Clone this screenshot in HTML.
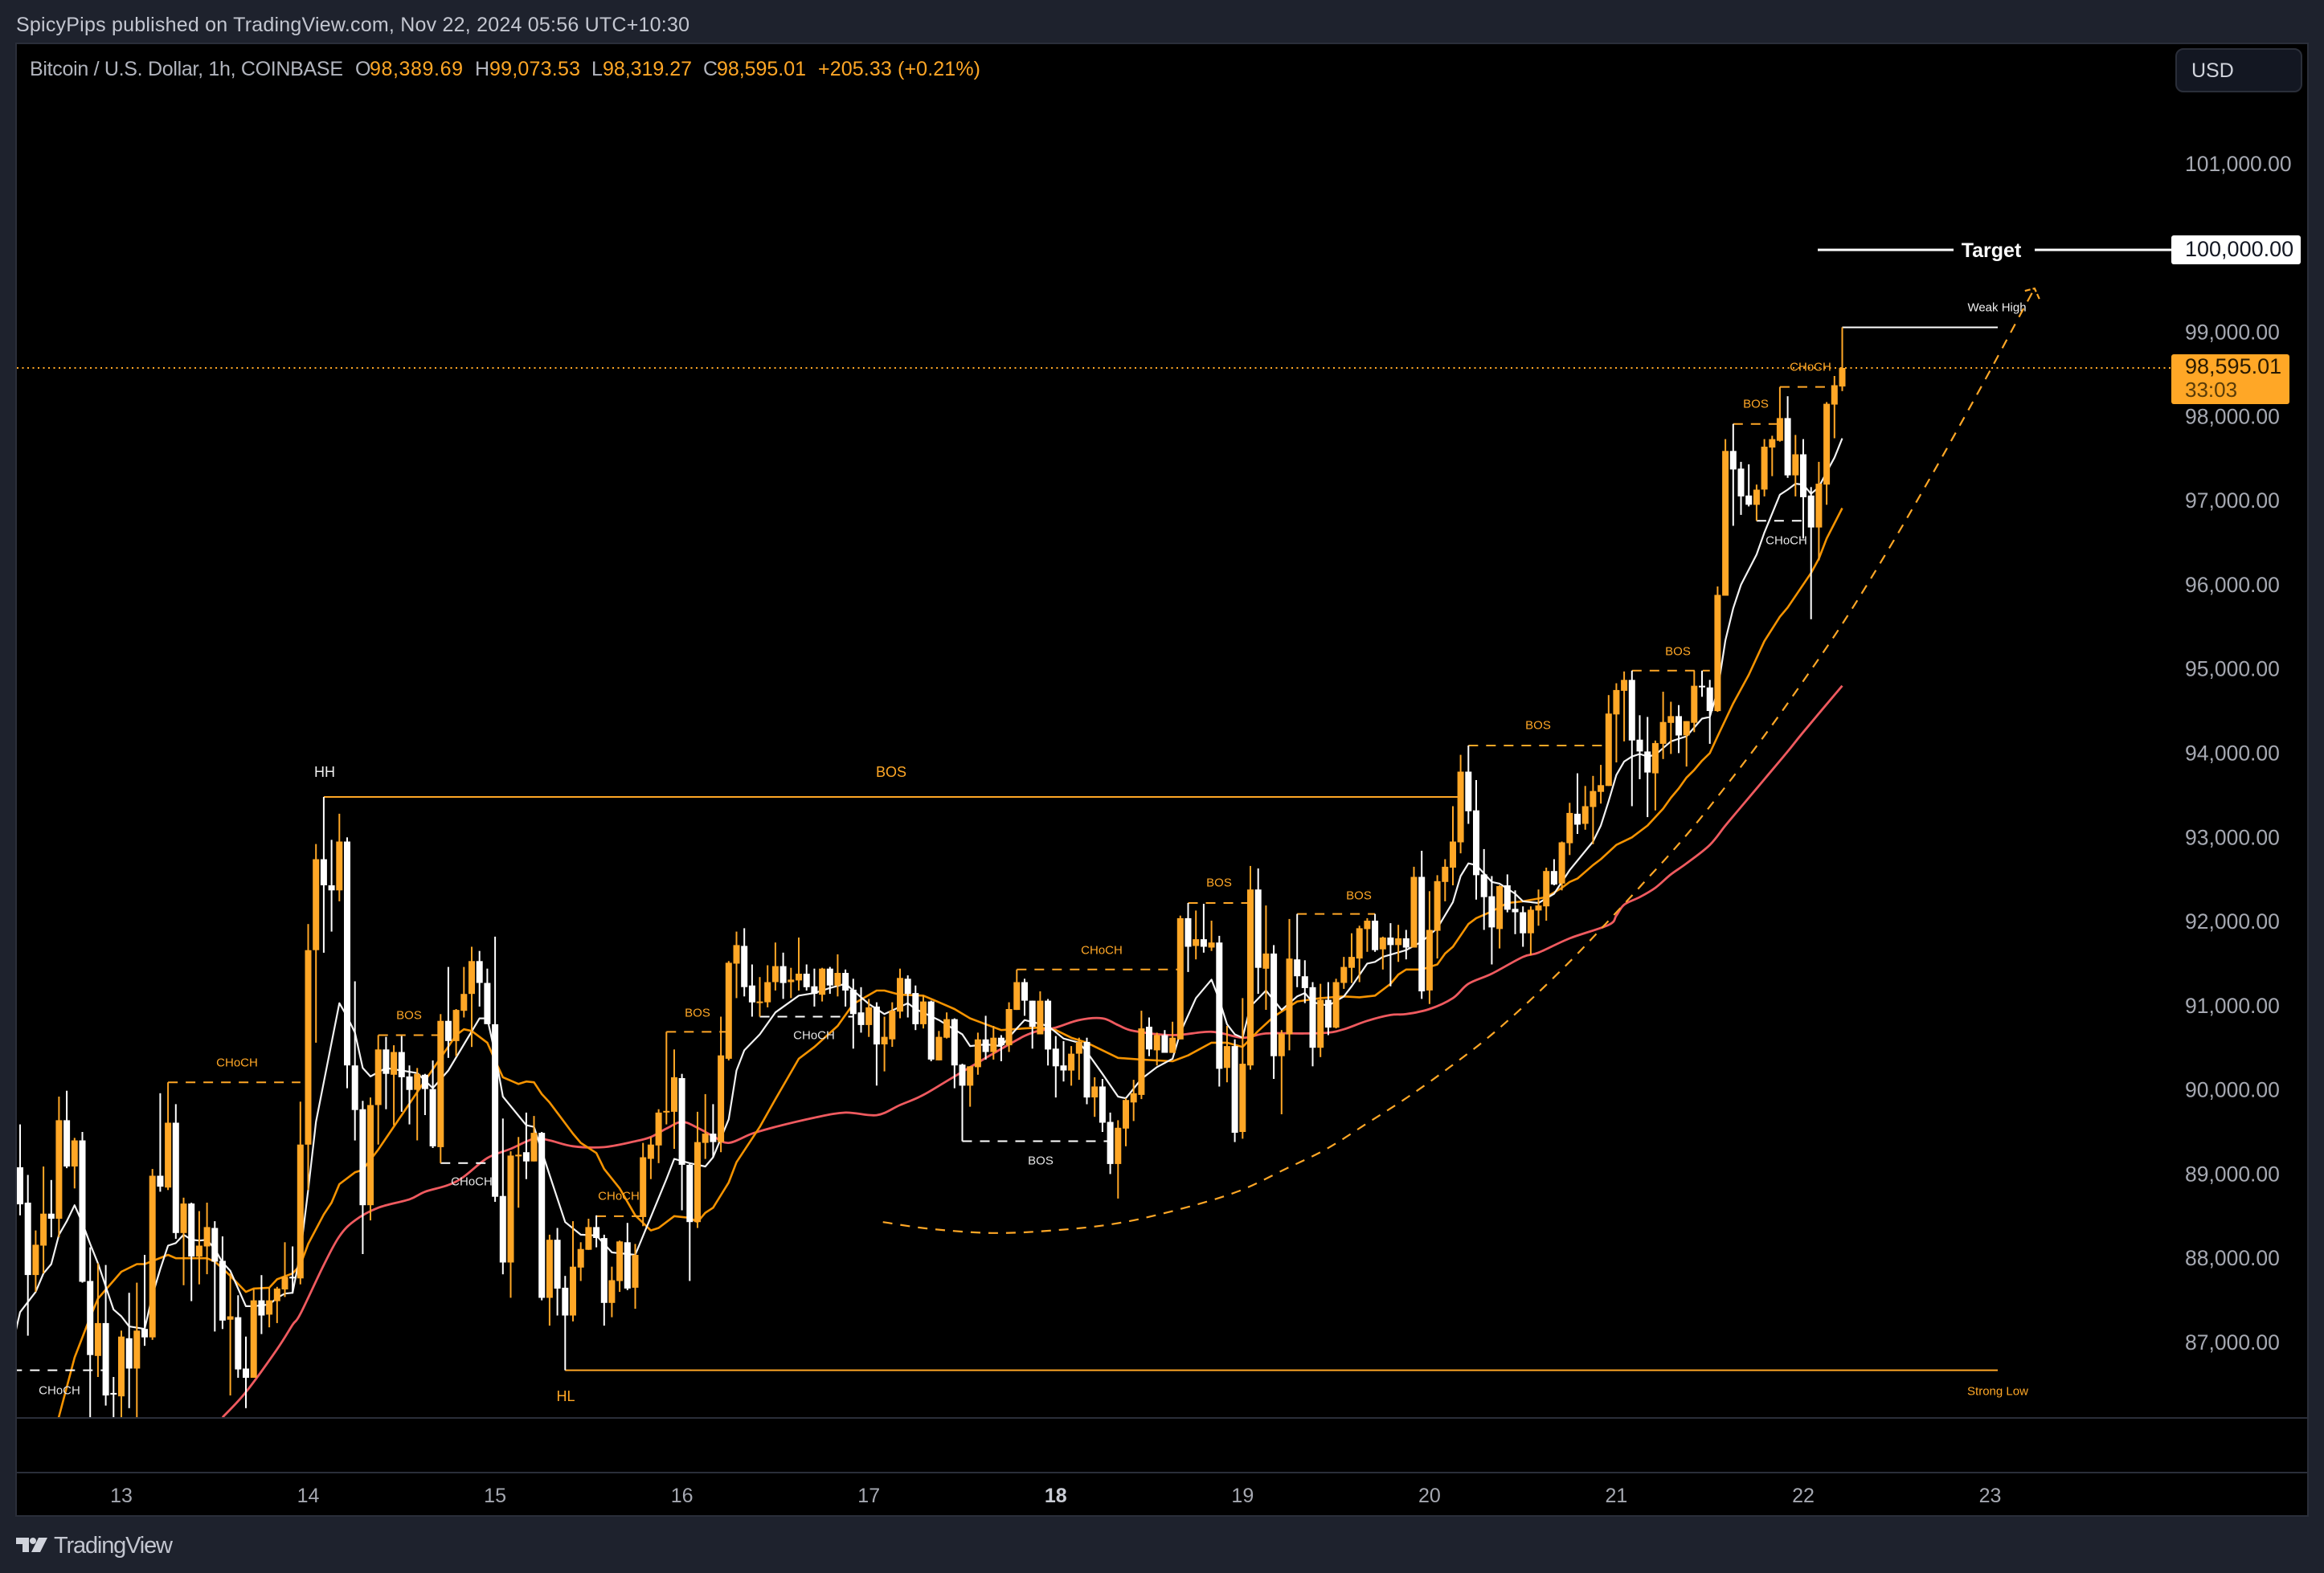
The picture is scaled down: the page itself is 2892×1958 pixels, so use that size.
<!DOCTYPE html>
<html lang="en">
<head>
<meta charset="utf-8">
<title>BTC/USD 1h chart</title>
<style>
html,body{margin:0;padding:0;width:2892px;height:1958px;overflow:hidden;background:#1e222d;}
svg{display:block;font-family:"Liberation Sans",sans-serif;}
</style>
</head>
<body>
<svg id="chart" xmlns="http://www.w3.org/2000/svg" width="2892" height="1958" viewBox="0 0 2892 1958">
  <defs><clipPath id="pane"><rect x="21" y="55" width="2680" height="1710"/></clipPath></defs>
  <rect x="0" y="0" width="2892" height="1958" fill="#1e222d"/>
  <rect x="20" y="54" width="2852" height="1833" fill="#000" stroke="#2a2e39" stroke-width="2"/>
  <text x="20" y="31" dominant-baseline="central" font-size="25" fill="#c3c6d0" textLength="838" lengthAdjust="spacing">SpicyPips published on TradingView.com, Nov 22, 2024 05:56 UTC+10:30</text>
  <g font-size="25" dominant-baseline="central">
    <text x="37" y="86" dominant-baseline="central" fill="#b2b5be" textLength="390" lengthAdjust="spacing">Bitcoin / U.S. Dollar, 1h, COINBASE</text>
    <text x="442" y="86" dominant-baseline="central" fill="#b2b5be">O</text>
    <text x="460" y="86" dominant-baseline="central" fill="#ffa726" textLength="116" lengthAdjust="spacing">98,389.69</text>
    <text x="591" y="86" dominant-baseline="central" fill="#b2b5be">H</text>
    <text x="609" y="86" dominant-baseline="central" fill="#ffa726" textLength="113" lengthAdjust="spacing">99,073.53</text>
    <text x="736" y="86" dominant-baseline="central" fill="#b2b5be">L</text>
    <text x="750" y="86" dominant-baseline="central" fill="#ffa726" textLength="111" lengthAdjust="spacing">98,319.27</text>
    <text x="875" y="86" dominant-baseline="central" fill="#b2b5be">C</text>
    <text x="892" y="86" dominant-baseline="central" fill="#ffa726" textLength="111" lengthAdjust="spacing">98,595.01</text>
    <text x="1018" y="86" dominant-baseline="central" fill="#ffa726" textLength="202" lengthAdjust="spacing">+205.33 (+0.21%)</text>
  </g>
  <g id="lines" clip-path="url(#pane)"></g>
  <g id="segments" clip-path="url(#pane)"></g>
  <g id="candles" clip-path="url(#pane)"></g>
  <g font-size="15" text-anchor="middle" dominant-baseline="central">
    <text x="74" y="1731" fill="#e4e4e4" dominant-baseline="central">CHoCH</text>
    <text x="295" y="1323" fill="#ffa726" dominant-baseline="central">CHoCH</text>
    <text x="509" y="1264" fill="#ffa726" dominant-baseline="central">BOS</text>
    <text x="587" y="1471" fill="#e4e4e4" dominant-baseline="central">CHoCH</text>
    <text x="770" y="1489" fill="#ffa726" dominant-baseline="central">CHoCH</text>
    <text x="868" y="1261" fill="#ffa726" dominant-baseline="central">BOS</text>
    <text x="1013" y="1289" fill="#e4e4e4" dominant-baseline="central">CHoCH</text>
    <text x="1295" y="1445" fill="#e4e4e4" dominant-baseline="central">BOS</text>
    <text x="1371" y="1183" fill="#ffa726" dominant-baseline="central">CHoCH</text>
    <text x="1517" y="1099" fill="#ffa726" dominant-baseline="central">BOS</text>
    <text x="1691" y="1115" fill="#ffa726" dominant-baseline="central">BOS</text>
    <text x="1914" y="903" fill="#ffa726" dominant-baseline="central">BOS</text>
    <text x="2088" y="811" fill="#ffa726" dominant-baseline="central">BOS</text>
    <text x="2185" y="503" fill="#ffa726" dominant-baseline="central">BOS</text>
    <text x="2253" y="457" fill="#ffa726" dominant-baseline="central">CHoCH</text>
    <text x="2223" y="673" fill="#e4e4e4" dominant-baseline="central">CHoCH</text>
    <text x="2485" y="383" fill="#f0f0f0" dominant-baseline="central">Weak High</text>
    <text x="2486" y="1732" fill="#ffa726" dominant-baseline="central">Strong Low</text>
    <text x="404" y="961" fill="#f0f0f0" font-size="18" dominant-baseline="central">HH</text>
    <text x="1109" y="961" fill="#ffa726" font-size="18" dominant-baseline="central">BOS</text>
    <text x="704" y="1738" fill="#ffa726" font-size="18" dominant-baseline="central">HL</text>
  </g>
  <rect x="21" y="1764" width="2850" height="2" fill="#2a2e39"/>
  <rect x="21" y="1832" width="2850" height="2" fill="#2a2e39"/>
  <g id="priceAxis"></g>
  <g id="timeAxis"></g>
  <g id="target"></g>
  <rect x="2702" y="441" width="147" height="62" rx="3" fill="#ffa726"/>
  <text x="2719" y="456" dominant-baseline="central" font-size="27" fill="#2a1a00">98,595.01</text>
  <text x="2719" y="485" dominant-baseline="central" font-size="26" fill="#5a3c08">33:03</text>
  <g>
    <rect x="2708" y="61" width="156" height="53" rx="9" fill="#131722" stroke="#2a2e39" stroke-width="2"/>
    <text x="2727" y="88" dominant-baseline="central" font-size="25" fill="#d1d4dc">USD</text>
  </g>
  <g>
    <polygon points="20,1914 36,1914 36,1932 28,1932 28,1922 20,1922" fill="#d1d4dc"/>
    <circle cx="41" cy="1918" r="4" fill="#d1d4dc"/>
    <polygon points="48,1914 59,1914 50,1932 39,1932" fill="#d1d4dc"/>
    <text x="67" y="1924" dominant-baseline="central" font-size="29" fill="#c3c6d0" textLength="148" lengthAdjust="spacing">TradingView</text>
  </g>
</svg>
<script>
const opens = [
89080,88660,87800,88150,88530,88470,89640,89090,89400,87730,
86840,87230,86400,86360,87050,86690,87160,87060,88980,88840,
89610,88300,88650,88020,88140,88360,87970,87270,87300,86690,
86580,87500,87330,87490,87630,87780,87760,89350,91660,92740,
92430,92370,92950,90290,89770,88630,89820,90480,90180,90450,
90160,90000,90180,90010,89320,90820,90580,90940,91140,91530,
91270,90780,88740,87950,89210,89260,89150,89490,87530,88220,
87650,87320,87890,88100,88370,88240,87470,87730,88190,87650,
88490,89180,89340,89740,89740,90140,89110,88430,89370,89480,
89380,90370,91500,91710,91240,91040,91040,91280,91470,91280,
91300,91380,91230,91130,91440,91240,91390,91190,90920,90770,
90990,90540,90600,90930,91320,91150,90780,91050,90350,90620,
90840,90300,90050,90270,90600,90450,90620,90530,90950,91280,
91060,90660,91060,90490,90290,90230,90430,90570,89910,90040,
89620,89120,89540,89850,89940,90750,90470,90650,90440,90600,
92040,91710,91790,91690,91750,90260,90520,89500,90290,92380,
91440,91620,90400,90660,91550,91350,91220,90500,91070,90740,
91270,91450,91560,91910,92010,91670,91810,91720,91800,91690,
92530,91180,91890,92470,92640,92940,93780,93320,92560,92300,
91910,92430,92150,92110,91860,92130,92180,92600,92450,92930,
93280,93160,93360,93540,93610,94460,94740,94870,94160,94020,
93760,94110,94360,94440,94210,94360,94800,94780,94500,95870,
97590,97380,97060,96950,97130,97630,97710,97980,97300,97550,
97060,96680,97190,98140,98356];
const highs = [
89590,88990,88330,89090,88930,89920,89990,89430,89500,88130,
87940,87920,86590,87140,87590,87710,88040,89060,89960,90090,
89830,88720,88660,88560,88660,88440,88260,87820,87560,87070,
87630,87800,87650,87660,88190,88140,89860,91970,92920,93480,
92970,93280,93000,91290,89870,89910,90650,90630,90530,90640,
90290,90260,90190,90350,90900,91460,90960,91460,91700,91650,
91440,91820,89660,89270,89440,89730,89690,89500,88280,88360,
87790,88440,88190,88470,88510,88280,87900,88210,88420,88170,
89370,89440,89770,90690,90480,90190,89120,89740,89950,89830,
90870,91530,91880,91920,91490,91340,91480,91750,91630,91450,
91810,91490,91440,91450,91460,91610,91430,91320,91220,91080,
91040,90870,91040,91440,91360,91240,91120,91060,90700,90920,
90850,90310,90280,90680,90880,90760,90650,91040,91430,91320,
91060,91170,91080,90640,90580,90520,90620,90620,90150,90130,
89730,89640,89900,90120,90940,90860,90680,90710,90810,92070,
92220,92130,92210,92010,91830,90760,90600,91090,92660,92630,
92190,91720,90710,92030,92090,91540,91280,91260,91280,91320,
91580,91860,91950,92040,92090,91820,91980,91960,91900,92650,
92840,92360,92550,92740,93370,93980,94090,93680,92860,92540,
92430,92560,92370,92180,92180,92380,92640,92740,92950,93410,
93760,93610,93730,93860,94690,94830,94970,94980,94450,94430,
94150,94730,94610,94570,94380,94980,94980,94870,95980,97730,
97910,97460,97430,97190,97730,97770,98350,98240,97780,97730,
97160,97460,98170,98480,99058];
const lows = [
88510,87080,87600,87820,88250,88250,89070,88830,87710,86060,
86590,86250,86060,86010,86220,86010,86960,87030,88790,88810,
88230,87680,87490,87690,87810,87130,87160,86370,86580,86220,
86580,87100,87180,87230,87540,87580,87690,88810,90560,91630,
91880,92240,90020,89400,88050,88450,89350,89770,89580,89740,
89590,89400,89700,89310,89130,90380,90400,90860,90510,90990,
90780,88670,87810,87530,88600,88940,89150,87500,87200,87320,
86670,87250,87730,88100,88130,87200,87300,87600,87620,87400,
88380,88940,89130,89590,89300,88570,87730,88360,89180,89200,
89260,90350,91090,91110,90870,90870,90980,91180,91080,91090,
91180,91180,90990,91050,91140,91110,90990,90490,90680,90630,
90050,90220,90510,90850,90860,90710,90730,90340,90350,90610,
90020,89390,89800,90180,90360,90360,90340,90450,90950,90880,
90490,90660,90290,89910,90100,90050,90120,89830,89680,89500,
89000,88710,89330,89630,89890,90400,90290,90440,90440,90600,
91400,91550,91630,91650,90040,90090,89380,89420,90240,91140,
90950,90130,89710,90470,91220,91030,90280,90390,90650,90730,
91200,91270,91280,91640,91640,91430,91230,91520,91550,91690,
91080,91020,91560,92240,92430,92810,93160,92260,91900,91490,
91680,92110,91850,91700,91600,91950,92010,92430,92370,92790,
93040,93090,92920,93400,93610,93890,94140,93370,93690,93240,
93320,93930,93990,94000,93840,94250,94670,94110,94490,95870,
96700,96830,96930,96760,97050,97290,97700,97270,97050,96550,
95590,96290,96950,97740,98300];
const closes = [
88640,87800,88160,88530,88470,89640,89090,89400,87720,86850,
87230,86370,86390,87070,86690,87140,87060,88980,88850,89610,
88300,88650,88020,88150,88370,87960,87260,87310,86680,86580,
87500,87320,87500,87640,87780,87770,89350,91660,92740,92430,
92370,92950,90290,89760,88630,89820,90480,90190,90450,90150,
90000,90190,90010,89330,90820,90580,90950,91140,91530,91270,
90780,88730,87950,89220,89230,89150,89490,87530,88220,87640,
87320,87900,88110,88370,88240,87470,87740,88200,87640,88040,
89200,89350,89730,89750,90150,89110,88430,89380,89480,89380,
90410,91510,91720,91220,91040,91050,91280,91470,91270,91310,
91380,91220,91140,91440,91240,91390,91180,90900,90770,90980,
90540,90630,90940,91330,91140,90780,91050,90360,90630,90840,
90290,90050,90280,90600,90450,90620,90530,90960,91280,91060,
90750,91060,90480,90280,90230,90430,90570,89910,90040,89610,
89120,89550,89880,89960,90730,90480,90650,90440,90620,92040,
91700,91790,91700,91750,90250,90520,89490,90310,92380,91450,
91620,90400,90670,91560,91350,91210,90500,91070,90740,91280,
91460,91580,91920,92010,91660,91810,91720,91800,91690,92530,
91170,91900,92480,92650,92950,93780,93310,92550,92290,91930,
92420,92140,92110,91860,92140,92190,92600,92440,92940,93290,
93150,93370,93550,93620,94470,94750,94870,94150,94020,93770,
94120,94370,94440,94210,94380,94800,94790,94500,95880,97590,
97370,97050,96950,97130,97640,97730,97980,97300,97550,97040,
96680,97200,98150,98370,98576];

const fastHours = [-1,0,2,3,4,5,6,7,8,9,10,12,13,14,16,17,18,19,20,21,22,23,24,25,26,27,29,30,32,33,34,35,36,37,38,39,41,42,43,44,45,47,51,53,55,57,59,60,61,62,65,66,68,70,72,74,76,79,83,84,86,88,89,91,92,93,95,97,100,102,104,106,107,109,111,114,115,118,121,122,124,126,128,129,132,134,136,137,139,141,142,144,146,148,149,151,153,154,155,156,157,158,160,162,164,165,166,168,170,171,173,174,175,178,180,182,184,185,186,187,189,190,192,193,195,197,199,202,203,204,205,206,207,208,209,210,212,214,216,217,218,219,220,221,223,224,226,227,228,229,230,231,232,233,234];
const fastValues = [86960,87360,87600,87820,87930,88280,88440,88630,88420,88170,87940,87390,87310,87190,87160,87560,87870,88150,88180,88280,88220,88210,88220,88110,87950,87850,87430,87430,87450,87530,87580,87590,88060,88810,89620,90090,91030,90870,90680,90260,90160,90260,90200,90020,90230,90540,90850,90850,90430,89920,89580,89560,88990,88430,88280,88270,88070,88040,88940,89180,89130,89090,89200,89650,90230,90470,90660,90920,91120,91150,91210,91260,91180,91020,90900,91030,90960,90830,90660,90520,90540,90520,90730,90830,90760,90610,90560,90450,90190,89920,89900,90130,90270,90370,90680,91090,91310,91070,90780,90660,90620,90990,91180,90950,91110,91150,91040,91000,91110,91230,91500,91520,91580,91660,91760,91920,92230,92540,92690,92670,92470,92450,92330,92240,92220,92330,92610,92950,93140,93430,93740,93900,93960,93990,93960,93980,94140,94200,94410,94430,94740,95340,95720,96000,96360,96620,97070,97130,97200,97190,97080,97160,97340,97510,97740];

const midHours = [3,4,5,7,9,10,13,15,16,19,20,24,25,26,27,29,30,32,33,35,36,37,39,40,41,43,44,46,49,52,54,56,57,58,60,61,62,64,65,66,67,68,71,72,74,75,77,79,81,82,84,86,87,88,89,91,92,95,97,100,102,105,107,110,111,113,116,118,120,122,126,129,131,133,135,137,141,144,148,150,153,155,157,159,161,163,164,167,170,172,174,176,177,178,180,182,183,184,186,187,189,191,193,196,198,199,200,202,203,205,207,209,211,212,213,214,215,216,217,218,220,222,224,226,227,230,231,232,234];
const midValues = [85290,85770,86120,86820,87300,87520,87840,87930,87930,88040,88000,88000,87960,87880,87790,87600,87640,87650,87750,87820,87920,88170,88520,88660,88880,89020,89050,89290,89700,90110,90380,90650,90720,90700,90560,90350,90150,90070,90100,90090,89950,89850,89480,89370,89250,89060,88830,88510,88330,88360,88500,88480,88430,88540,88600,88900,89140,89560,89890,90370,90510,90760,91020,91180,91180,91130,91120,91040,90960,90850,90710,90730,90740,90710,90620,90560,90380,90360,90340,90410,90560,90560,90510,90700,90870,90990,91050,91090,91110,91100,91120,91260,91370,91430,91430,91490,91620,91700,91970,92040,92120,92220,92240,92290,92400,92470,92510,92670,92740,92910,93000,93140,93340,93470,93580,93710,93800,93910,94000,94200,94590,94930,95330,95620,95730,96140,96310,96550,96910];

const slowHours = [26,29,33,35,36,39,41,43,46,50,52,55,57,60,63,66,68,71,75,79,81,83,85,87,89,91,94,97,102,106,110,113,116,120,127,130,133,136,139,141,143,148,153,157,160,165,168,170,173,176,178,181,184,186,189,193,195,199,204,205,206,208,210,212,214,217,219,221,224,227,229,234];
const slowValues = [86110,86410,86920,87210,87340,87920,88260,88450,88600,88700,88790,88870,88970,89190,89300,89420,89400,89330,89320,89390,89440,89540,89620,89550,89450,89370,89480,89560,89670,89730,89700,89820,89940,90160,90540,90680,90740,90830,90850,90770,90700,90650,90690,90620,90670,90670,90680,90720,90820,90890,90900,90960,91090,91260,91380,91580,91630,91800,91960,92070,92200,92290,92400,92560,92690,92910,93140,93360,93690,94020,94250,94800];

const pathHours = [110.8,116.8,124.8,132.6,140.6,148.4,156.3,162.5,167.8,173.1,178.3,183.6,188.9,194.1,199.4,203.6,208.4,213.1,217.3,223.7,229.1,234.4,240.2,246.1,252.5,256.7,258.7];
const pathPrices = [88430,88350,88300,88330,88410,88570,88790,89060,89300,89610,89920,90270,90650,91080,91560,91970,92450,92930,93400,94170,94870,95590,96460,97400,98460,99180,99520];

const orangeDashStart = [19,46,74,83,128,150,164,186,207,220,226];
const orangeDashEnd = [36,54,80,91,149,158,174,204,217,226,233];
const orangeDashPrice = [90090,90650,88500,90690,91430,92220,92090,94090,94980,97910,98350];
const whiteDashStart = [-1,54,95,121,223];
const whiteDashEnd = [11,60,107,140,229];
const whiteDashPrice = [86670,89130,90870,89390,96760];

const priceTicks = [101000,99000,98000,97000,96000,95000,94000,93000,92000,91000,90000,89000,88000,87000];
const priceTickLabels = ["101,000.00","99,000.00","98,000.00","97,000.00","96,000.00","95,000.00","94,000.00","93,000.00","92,000.00","91,000.00","90,000.00","89,000.00","88,000.00","87,000.00"];
const dayLabels = ["13","14","15","16","17","18","19","20","21","22","23"];
const dayHours = [13,37,61,85,109,133,157,181,205,229,253];

const lastPrice = 98576;
const targetPrice = 99978;
const majorHighPrice = 93480;
const majorLowPrice = 86670;
const weakHighPrice = 99058;

const SVGNS = 'http://www.w3.org/2000/svg';
function xAt(hour) { return 25 + 9.69 * hour; }
function yAt(price) { return 1671 - (price - 87000) * 0.10479; }
function make(tag, parent, attrs) {
  const el = document.createElementNS(SVGNS, tag);
  for (const k in attrs) el.setAttribute(k, attrs[k]);
  parent.appendChild(el);
  return el;
}
const linesG = document.getElementById('lines');
const segG = document.getElementById('segments');
const candlesG = document.getElementById('candles');
const priceG = document.getElementById('priceAxis');
const timeG = document.getElementById('timeAxis');
const targetG = document.getElementById('target');

function polyPoints(hours, vals) {
  return hours.map(function (h, i) { return xAt(h).toFixed(1) + ',' + yAt(vals[i]).toFixed(1); }).join(' ');
}
function smoothPath(hours, vals) {
  const xs = hours.map(xAt);
  const ys = vals.map(yAt);
  let d = 'M' + xs[0].toFixed(1) + ' ' + ys[0].toFixed(1);
  for (let i = 0; i < xs.length - 1; i++) {
    const a = Math.max(0, i - 1);
    const b = Math.min(xs.length - 1, i + 2);
    const c1x = xs[i] + (xs[i + 1] - xs[a]) / 6;
    const c1y = ys[i] + (ys[i + 1] - ys[a]) / 6;
    const c2x = xs[i + 1] - (xs[b] - xs[i]) / 6;
    const c2y = ys[i + 1] - (ys[b] - ys[i]) / 6;
    d += 'C' + c1x.toFixed(1) + ' ' + c1y.toFixed(1) + ' ' + c2x.toFixed(1) + ' ' + c2y.toFixed(1) + ' ' + xs[i + 1].toFixed(1) + ' ' + ys[i + 1].toFixed(1);
  }
  return d;
}
const slowLine = make('path', linesG, { d: smoothPath(slowHours, slowValues), fill: 'none', stroke: '#ef5a5f', 'stroke-width': 2.8, 'stroke-linejoin': 'round' });


const midLine = make('polyline', linesG, { points: polyPoints(midHours, midValues), fill: 'none', stroke: '#f59300', 'stroke-width': 2.6, 'stroke-linejoin': 'round' });


const fastLine = make('polyline', linesG, { points: polyPoints(fastHours, fastValues), fill: 'none', stroke: '#f2f2f2', 'stroke-width': 2.2, 'stroke-linejoin': 'round' });



const forecast = make('path', linesG, { d: smoothPath(pathHours, pathPrices), fill: 'none', stroke: '#ffa726', 'stroke-width': 2.2, 'stroke-dasharray': '12 10' });


const tipX = xAt(pathHours[pathHours.length - 1]);
const tipY = yAt(pathPrices[pathPrices.length - 1]);
const arrowHead = make('path', linesG, { d: 'M' + (tipX - 12) + ' ' + (tipY + 3) + 'L' + tipX + ' ' + tipY + 'L' + (tipX + 6) + ' ' + (tipY + 13), fill: 'none', stroke: '#ffa726', 'stroke-width': 2.2, 'stroke-dasharray': '7 3' });



const lastLine = make('line', linesG, { x1: 21, x2: 2702, y1: yAt(lastPrice), y2: yAt(lastPrice), stroke: '#ffa726', 'stroke-width': 2, 'stroke-dasharray': '2 4.5' });



orangeDashPrice.forEach(function (p, i) {
  const d = make('line', segG, { x1: xAt(orangeDashStart[i]), x2: xAt(orangeDashEnd[i]), y1: yAt(p), y2: yAt(p), stroke: '#ffa726', 'stroke-width': 2, 'stroke-dasharray': '12 10' });
  
  
});
whiteDashPrice.forEach(function (p, i) {
  const d = make('line', segG, { x1: xAt(whiteDashStart[i]), x2: xAt(whiteDashEnd[i]), y1: yAt(p), y2: yAt(p), stroke: '#ffffff', 'stroke-width': 2, 'stroke-dasharray': '12 10' });
  
  
});
const hhLine = make('line', segG, { x1: xAt(39), x2: xAt(185), y1: yAt(majorHighPrice), y2: yAt(majorHighPrice), stroke: '#ffa726', 'stroke-width': 2 });


const hlLine = make('line', segG, { x1: xAt(70), x2: 2486, y1: yAt(majorLowPrice), y2: yAt(majorLowPrice), stroke: '#ffa726', 'stroke-width': 2 });


const whLine = make('line', segG, { x1: xAt(234), x2: 2486, y1: yAt(weakHighPrice), y2: yAt(weakHighPrice), stroke: '#ffffff', 'stroke-width': 2 });



opens.forEach(function (o, i) {
  const c = closes[i];
  const colour = c >= o ? '#ffa726' : '#ffffff';
  const cx = xAt(i);
  const wick = make('rect', candlesG, { x: (cx - 1).toFixed(1), y: yAt(highs[i]).toFixed(1), width: 2, height: (yAt(lows[i]) - yAt(highs[i])).toFixed(1), fill: colour });
  
  
  const top = yAt(Math.max(o, c));
  const h = Math.max(2, yAt(Math.min(o, c)) - top);
  const body = make('rect', candlesG, { x: (cx - 4).toFixed(1), y: top.toFixed(1), width: 8, height: h.toFixed(1), fill: colour });
  
  
});

priceTicks.forEach(function (p, i) {
  const t = make('text', priceG, { x: 2719, y: yAt(p), 'dominant-baseline': 'central', 'font-size': 26.5, fill: '#a5a8b1' });
  t.textContent = priceTickLabels[i];
  
  
});
dayLabels.forEach(function (label, i) {
  const t = make('text', timeG, { x: xAt(dayHours[i]), y: 1862, 'text-anchor': 'middle', 'dominant-baseline': 'central', 'font-size': 25, fill: label === '18' ? '#c9ccd4' : '#a5a8b1', 'font-weight': label === '18' ? 'bold' : 'normal' });
  t.textContent = label;
  
  
});

const targetY = yAt(targetPrice);
const targetLeft = make('rect', targetG, { x: 2262, y: targetY - 1.5, width: 169, height: 3, fill: '#ffffff' });


const targetRight = make('rect', targetG, { x: 2532, y: targetY - 1.5, width: 170, height: 3, fill: '#ffffff' });


const targetText = make('text', targetG, { x: 2478, y: targetY + 1, 'text-anchor': 'middle', 'dominant-baseline': 'central', 'font-size': 25, 'font-weight': 'bold', fill: '#ffffff' });
targetText.textContent = 'Target';


const targetTag = make('rect', targetG, { x: 2702, y: targetY - 18, width: 161, height: 36, rx: 3, fill: '#ffffff' });


const targetTagText = make('text', targetG, { x: 2719, y: targetY - 1, 'dominant-baseline': 'central', 'font-size': 27, fill: '#131722' });
targetTagText.textContent = '100,000.00';


</script>
</body>
</html>
